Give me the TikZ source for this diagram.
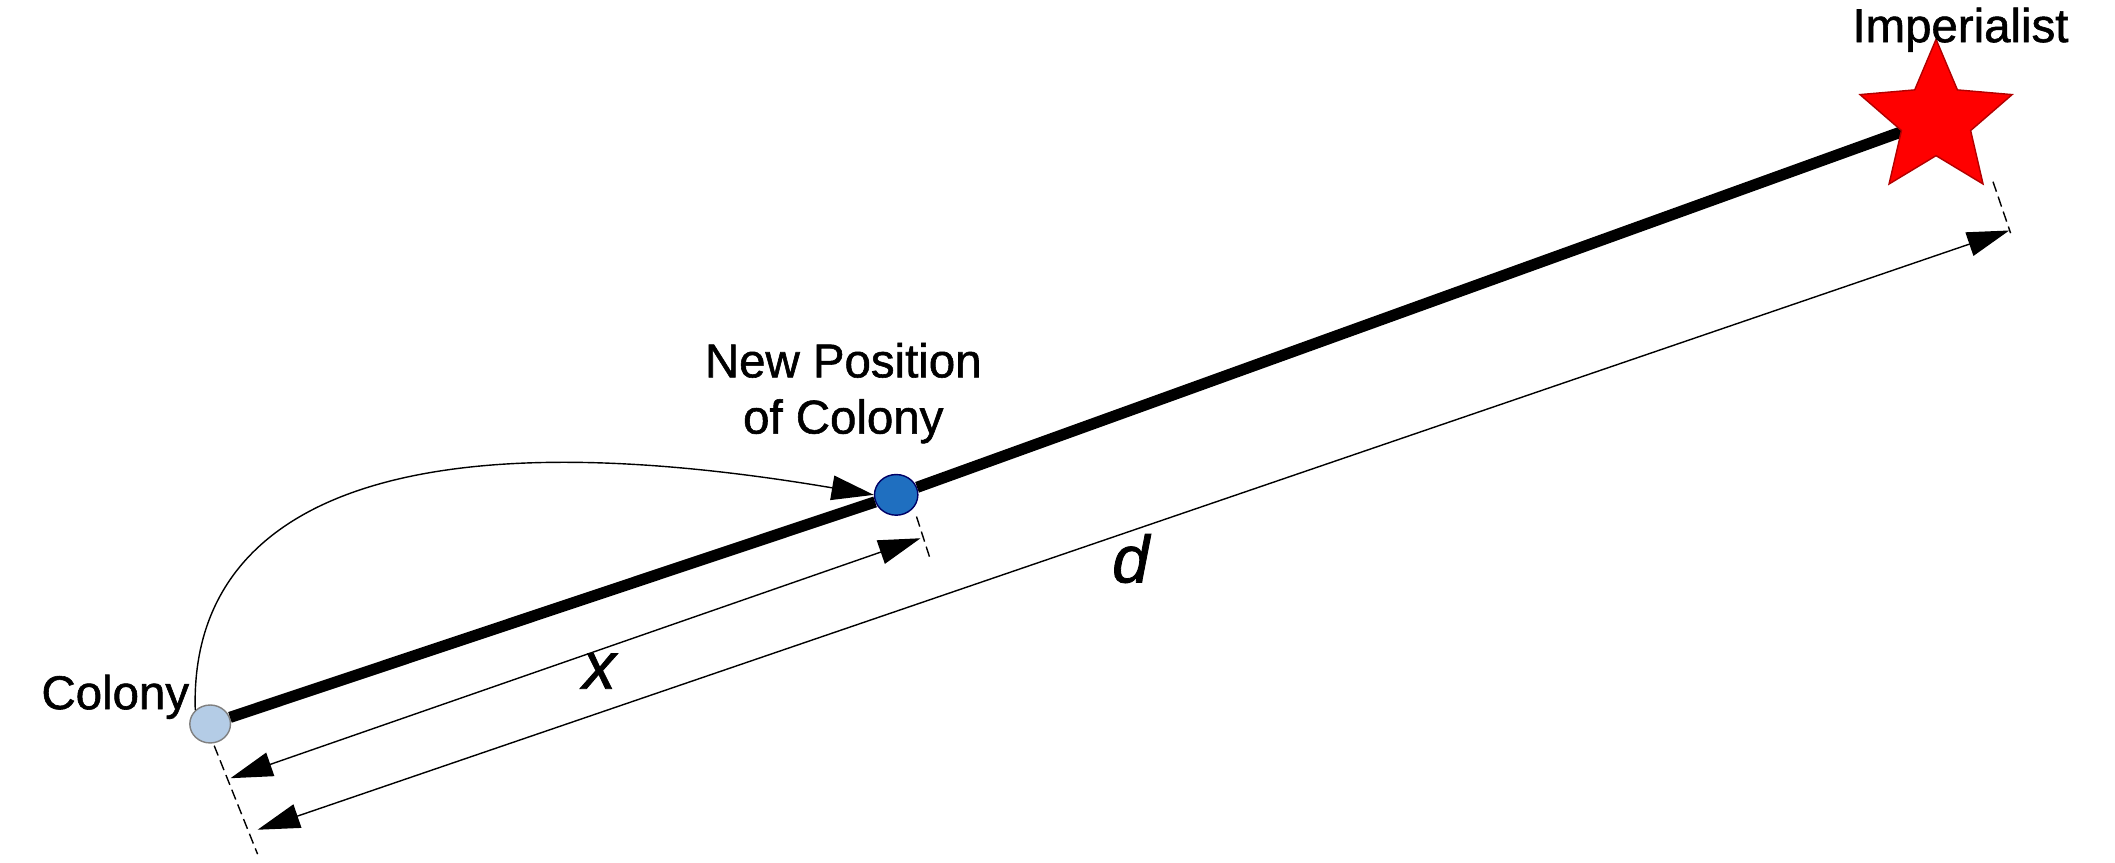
\documentclass[tikz,border=0pt]{standalone}
\usepackage{fontspec}
\setmainfont[FakeBold=1.2]{Liberation Sans}
\usetikzlibrary{shapes.geometric,arrows.meta}
\definecolor{lightcol}{HTML}{B4CCE6}
\definecolor{newcol}{HTML}{1F6FC0}
\begin{document}
\begin{tikzpicture}[x=0.01356cm,y=-0.01356cm,
  lbl/.style={font=\fontsize{13.5}{16}\selectfont, align=center, inner sep=0},
  dim/.style={thin, {Triangle[length=12pt,width=7pt]}-{Triangle[length=12pt,width=7pt]}},
  ext/.style={thin, dashed, dash pattern=on 3pt off 1.5pt},
  impstar/.style={star, star points=5, star point ratio=2.2, fill=red, draw=red!70!black, minimum size=118*0.01356cm, inner sep=0}]
\useasboundingbox (0,0) rectangle (1560,636);
\node[ellipse, fill=lightcol, draw=gray, minimum width=30*0.01356cm, minimum height=28*0.01356cm, inner sep=0] (col) at (155,534) {};
\node[ellipse, fill=newcol, draw=blue!40!black, minimum width=32*0.01356cm, minimum height=30*0.01356cm, inner sep=0] (new) at (661,365) {};
\coordinate (impc) at (1428,88);
\draw[line width=3.2pt] (col) -- (new);
\draw[line width=3.2pt] (new) -- (impc);
\node[impstar] (imp) at (impc) {};
\node[lbl, anchor=east] (collbl) at (140,514) {Colony};
\node[lbl] (newlbl) at (622,290) {New Position\\of Colony};
\node[lbl] (implbl) at (1446,22) {Imperialist};
\coordinate (c1) at (158,550); \coordinate (c2) at (190,630);
\coordinate (n1) at (676,381); \coordinate (n2) at (686,412);
\coordinate (s1) at (1470,134); \coordinate (s2) at (1483,172);
\draw[ext] (c1) -- (c2);
\draw[ext] (n1) -- (n2);
\draw[ext] (s1) -- (s2);
\coordinate (xa) at (170,574); \coordinate (xb) at (679,397);
\coordinate (da) at (190,612); \coordinate (db) at (1482,170);
\draw[dim] (xa) -- (xb);
\draw[dim] (da) -- (db);
\node[font=\itshape\fontsize{19}{20}\selectfont] (xl) at (442,495) {x};
\node[font=\itshape\fontsize{19}{20}\selectfont] (dl) at (834,412) {d};
\draw[thin, -{Triangle[length=12pt,width=7pt]}] (col.north west) .. controls (140,390) and (260,300) .. (new.west);
\end{tikzpicture}
\end{document}
